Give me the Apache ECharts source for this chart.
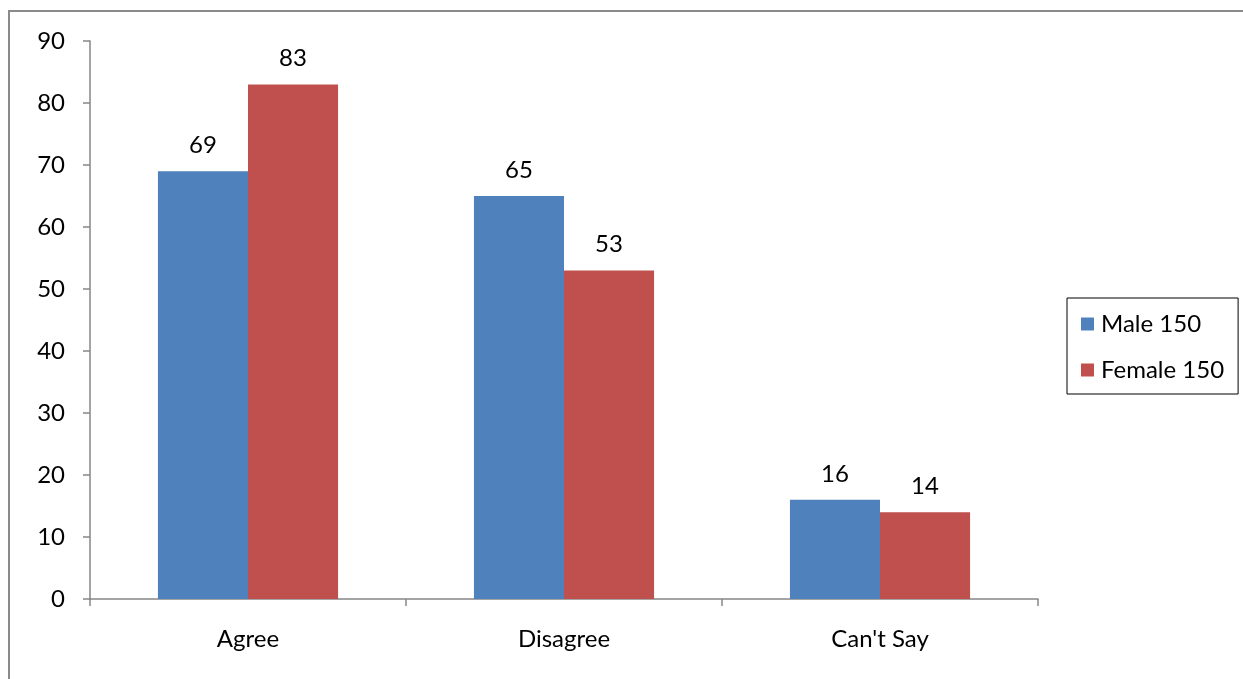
<!DOCTYPE html>
<html>
<head>
<meta charset="utf-8">
<script src="https://cdn.jsdelivr.net/npm/echarts@6/dist/echarts.min.js"></script>
<style>
  html, body { margin: 0; padding: 0; background: #fff; }
  #chart { width: 1243px; height: 679px; }
</style>
</head>
<body>
<div id="chart"></div>
<script>
// Responses by gender
const categories = ['Agree', 'Disagree', "Can't Say"];
const maleValues = [69, 65, 16];
const femaleValues = [83, 53, 14];
const seriesNames = ['Male 150', 'Female 150'];

const FONT = 'Lato';
const FONT_SIZE = 24;
const AXIS_GREY = '#868686';

const chart = echarts.init(document.getElementById('chart'));

const barLabel = {
  show: true,
  position: 'top',
  distance: 14,
  color: '#000',
  fontFamily: FONT,
  fontSize: FONT_SIZE
};

chart.setOption({
  animation: false,
  textStyle: { fontFamily: FONT },
  graphic: [{
    type: 'rect',
    shape: { x: 9, y: 11, width: 1260, height: 700 },
    style: { fill: 'none', stroke: '#8a8a8a', lineWidth: 2 },
    silent: true,
    z: -1
  }],
  grid: { left: 90, top: 41, right: 205, bottom: 80 },
  legend: {
    orient: 'vertical',
    left: 1067,
    top: 298,
    padding: [14, 14, 12, 14],
    itemGap: 22,
    itemWidth: 13,
    itemHeight: 13,
    icon: 'rect',
    borderColor: '#000',
    borderWidth: 1,
    textStyle: { fontFamily: FONT, fontSize: FONT_SIZE, color: '#000', padding: [0, 0, 0, 2] },
    data: seriesNames
  },
  xAxis: {
    type: 'category',
    data: categories,
    axisLine: { lineStyle: { color: AXIS_GREY, width: 1.5 } },
    axisTick: { show: true, length: 7, lineStyle: { color: AXIS_GREY, width: 1.5 } },
    axisLabel: { color: '#000', fontFamily: FONT, fontSize: FONT_SIZE, margin: 28 }
  },
  yAxis: {
    type: 'value',
    min: 0,
    max: 90,
    interval: 10,
    splitLine: { show: false },
    axisLine: { show: true, lineStyle: { color: AXIS_GREY, width: 1.5 } },
    axisTick: { show: true, length: 7, lineStyle: { color: AXIS_GREY, width: 1.5 } },
    axisLabel: { color: '#000', fontFamily: FONT, fontSize: FONT_SIZE, margin: 25 }
  },
  series: [
    {
      name: seriesNames[0],
      type: 'bar',
      data: maleValues,
      barGap: '0%',
      barCategoryGap: '43%',
      itemStyle: { color: '#4F81BD' },
      label: barLabel
    },
    {
      name: seriesNames[1],
      type: 'bar',
      data: femaleValues,
      itemStyle: { color: '#C0504D' },
      label: barLabel
    }
  ]
});
</script>
</body>
</html>
